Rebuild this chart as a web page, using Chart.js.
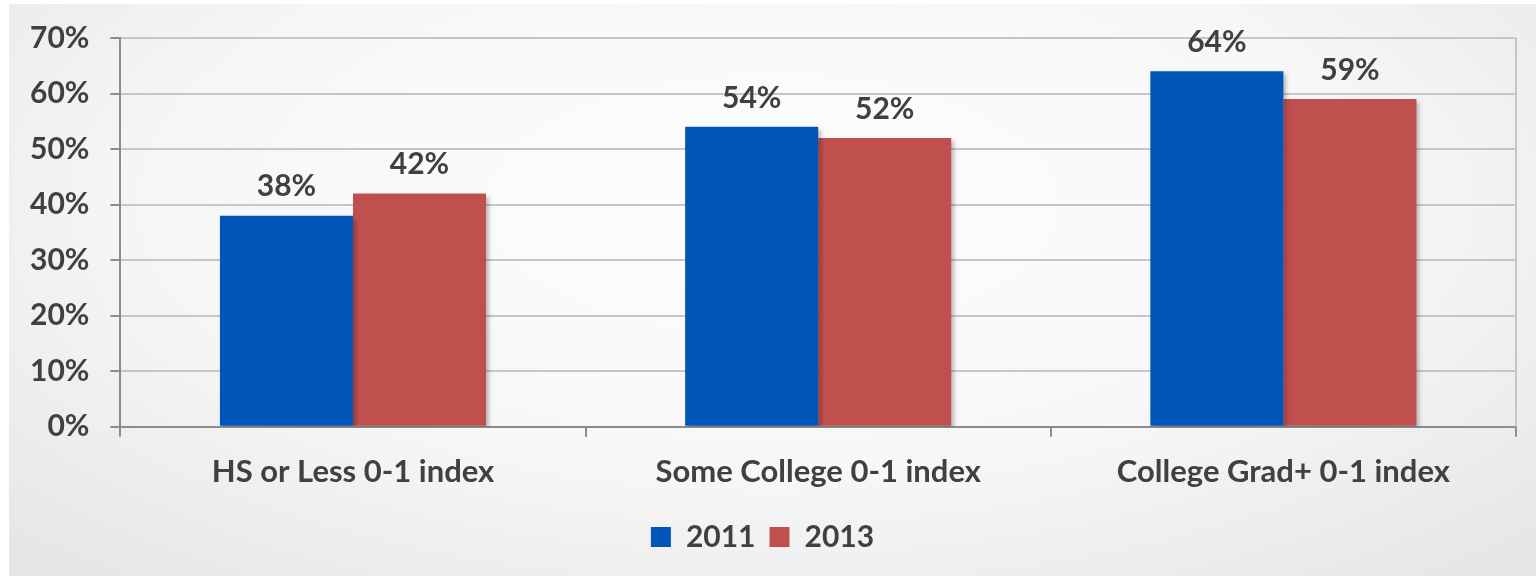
<!DOCTYPE html>
<html>
<head>
<meta charset="utf-8">
<script src="https://cdn.jsdelivr.net/npm/chart.js@4/dist/chart.umd.min.js"></script>
<style>
  html, body { margin: 0; padding: 0; background: #ffffff; }
  #wrap {
    position: absolute; left: 9px; top: 4px; width: 1527px; height: 572px;
    background: radial-gradient(ellipse 70% 85% at 50% 35%, #fdfdfd 0%, #f7f7f7 55%, #e6e6e6 100%);
  }
</style>
</head>
<body>
<div id="wrap"><canvas id="chart-edu"></canvas></div>
<script>
var categories = ["HS or Less 0-1 index", "Some College 0-1 index", "College Grad+ 0-1 index"];
var values2011 = [38, 54, 64];
var values2013 = [42, 52, 59];
var yTicks = [0, 10, 20, 30, 40, 50, 60, 70];

var fontFam = "Lato, 'Open Sans', sans-serif";

// draws the % labels above each bar
var barLabels = {
  id: "barLabels",
  afterDatasetsDraw: function (chart) {
    var ctx = chart.ctx;
    ctx.save();
    ctx.font = "bold 30px " + fontFam;
    ctx.fillStyle = "#404040";
    ctx.textAlign = "center";
    ctx.textBaseline = "bottom";
    chart.data.datasets.forEach(function (ds, i) {
      var meta = chart.getDatasetMeta(i);
      meta.data.forEach(function (bar, j) {
        ctx.fillText(ds.data[j] + "%", bar.x, bar.y - 14);
      });
    });
    ctx.restore();
  }
};

// right border of the plot area + soft shadow on bars
var frame = {
  id: "frame",
  beforeDatasetsDraw: function (chart) {
    var a = chart.chartArea, ctx = chart.ctx;
    ctx.save();
    ctx.strokeStyle = "#c6c6c6";
    ctx.lineWidth = 2;
    ctx.beginPath();
    ctx.moveTo(a.right, a.top);
    ctx.lineTo(a.right, a.bottom);
    ctx.stroke();
    ctx.restore();
    ctx.save();
    ctx.shadowColor = "rgba(0,0,0,0.25)";
    ctx.shadowOffsetX = 3;
    ctx.shadowOffsetY = 3;
    ctx.shadowBlur = 4;
  },
  afterDatasetsDraw: function (chart) {
    chart.ctx.restore();
  }
};

var ctx1 = document.getElementById("chart-edu").getContext("2d");
var chart1 = new Chart(ctx1, {
  type: "bar",
  data: {
    labels: categories,
    datasets: [
      {
        label: "2011",
        data: values2011,
        backgroundColor: "#0055b8",
        borderWidth: 0,
        barPercentage: 1,
        categoryPercentage: 0.572,
      },
      {
        label: "2013",
        data: values2013,
        backgroundColor: "#c0504d",
        borderWidth: 0,
        barPercentage: 1,
        categoryPercentage: 0.572,
      },
    ],
  },
  plugins: [frame, barLabels],
  options: {
    responsive: true,
    maintainAspectRatio: false,
    animation: false,
    layout: {
      padding: { left: 0, right: 20, top: 0, bottom: 14 },
    },
    plugins: {
      legend: {
        position: "bottom",
        labels: {
          boxWidth: 20,
          boxHeight: 20,
          padding: 14,
          color: "#404040",
          font: { size: 30, weight: "bold", family: fontFam },
        },
      },
      tooltip: { enabled: false },
    },
    scales: {
      y: {
        min: 0,
        max: 70,
        afterBuildTicks: function (axis) {
          axis.ticks = yTicks.map(function (v) { return { value: v }; });
        },
        afterFit: function (axis) {
          axis.paddingTop = 34;
        },
        border: { color: "#8c8c8c", width: 2 },
        grid: {
          color: "#c6c6c6",
          lineWidth: 2,
          tickColor: "#8c8c8c",
          tickLength: 10,
        },
        ticks: {
          padding: 21,
          color: "#404040",
          font: { size: 30, weight: "bold", family: fontFam },
          callback: function (v) { return v + "%"; },
        },
      },
      x: {
        border: { color: "#8c8c8c", width: 2 },
        grid: {
          display: true,
          drawOnChartArea: false,
          tickColor: "#8c8c8c",
          lineWidth: 2,
          tickLength: 10,
        },
        ticks: {
          padding: 17,
          color: "#404040",
          font: { size: 31, weight: "bold", family: fontFam },
        },
      },
    },
  },
});
</script>
</body>
</html>
